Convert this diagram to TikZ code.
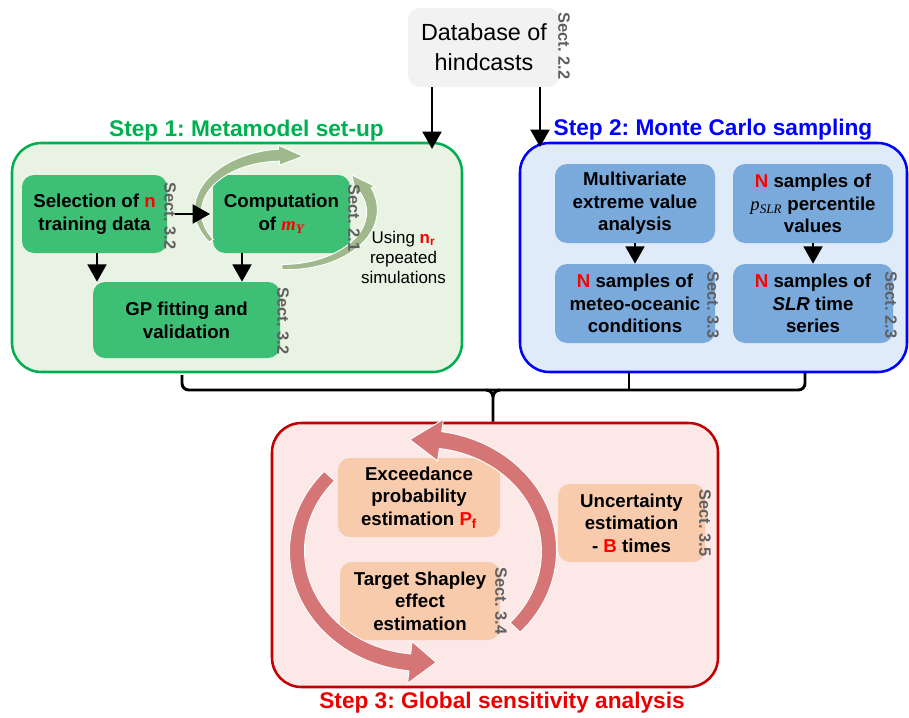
\documentclass[tikz,border=0pt]{standalone}
\usepackage{fontspec}
\setmainfont{Liberation Sans}
\newfontfamily\serifmath{Liberation Serif}
\usetikzlibrary{arrows.meta}
\frenchspacing

\definecolor{s1line}{RGB}{0,176,80}
\definecolor{s1fill}{RGB}{233,243,227}
\definecolor{s1box}{RGB}{61,192,118}
\definecolor{s2line}{RGB}{0,0,255}
\definecolor{s2fill}{RGB}{223,235,248}
\definecolor{s2box}{RGB}{122,170,220}
\definecolor{s3line}{RGB}{192,0,0}
\definecolor{s3fill}{RGB}{253,232,232}
\definecolor{s3box}{RGB}{248,203,173}
\definecolor{dbfill}{RGB}{242,242,242}
\definecolor{sectgray}{RGB}{95,95,95}
\definecolor{cycgreen}{RGB}{160,185,140}
\definecolor{cycred}{RGB}{213,117,117}
\definecolor{hl}{RGB}{255,0,0}
\definecolor{t3red}{RGB}{235,0,0}

\newcommand\hw{10}
\newcommand\cycarrow[9]{%
 \filldraw[cycarc] plot[smooth, domain=#5:#6, samples=40]
   ({#1+(#3+((#8)+((#9)-(#8))*(\x-(#5))/((#6)-(#5)))/2)*cos(\x)},{#2+(#4+((#8)+((#9)-(#8))*(\x-(#5))/((#6)-(#5)))/2)*sin(\x)})
 -- ({#1+(#3+\hw)*cos(#6)},{#2+(#4+\hw)*sin(#6)})
 -- ({#1+#3*cos(#7)},{#2+#4*sin(#7)})
 -- ({#1+(#3-\hw)*cos(#6)},{#2+(#4-\hw)*sin(#6)})
 -- plot[smooth, domain=#6:#5, samples=40]
   ({#1+(#3-((#8)+((#9)-(#8))*(\x-(#5))/((#6)-(#5)))/2)*cos(\x)},{#2+(#4-((#8)+((#9)-(#8))*(\x-(#5))/((#6)-(#5)))/2)*sin(\x)})
 -- cycle;}

\tikzset{
 wh/.style 2 args={minimum width=#1*0.75pt, minimum height=#2*0.75pt},
 stepbox/.style={draw, line width=1.9pt, rounded corners=22pt, inner sep=0pt},
 ibox/.style={rounded corners=9pt, inner sep=0pt, align=center,
   font=\fontsize{14}{17}\selectfont\bfseries},
 sect/.style={rotate=-90, text=sectgray, font=\fontsize{12.3}{14}\selectfont\bfseries, inner sep=0pt},
 steptitle/.style={font=\fontsize{17}{20}\selectfont\bfseries, inner sep=0pt},
 arr/.style={line width=2.2pt, -{Triangle[width=14pt,length=13pt]}},
 bracket/.style={line width=2.2pt, rounded corners=5pt},
 cycarc/.style={fill=cycgreen, draw=white, line width=0.7pt}
}

\begin{document}
\begin{tikzpicture}[x=0.75pt, y=-0.75pt]
\useasboundingbox (0,0) rectangle (909,717);

% step containers
\node[stepbox, draw=s1line, fill=s1fill, wh={450}{229}] (s1) at (237,257.5) {};
\node[stepbox, draw=s2line, fill=s2fill, wh={387}{229}] (s2) at (713.5,257.5) {};
\node[stepbox, draw=s3line, fill=s3fill, wh={446}{264}] (s3) at (495,555) {};

% titles
\node[steptitle, text=s1line] (t1) at (246.5,131) {Step 1: Metamodel set-up};
\node[steptitle, text=s2line] (t2) at (713,130) {Step 2: Monte Carlo sampling};
\node[steptitle, text=t3red] (t3) at (502,703) {Step 3: Global sensitivity analysis};

% database
\node[fill=dbfill, rounded corners=9pt, wh={152}{79}, align=center, inner sep=0pt,
      font=\fontsize{17.5}{22.5}\selectfont] (db) at (484,47.5) {Database of\\hindcasts};
\node[sect] (sdb) at (564,46) {Sect. 2.2};

% step 1 boxes
\node[ibox, fill=s1box, wh={145}{78}] (sel) at (94.5,214) {Selection of {\color{hl}n}\\training data};
\node[ibox, fill=s1box, wh={137}{78}] (comp) at (281.5,214)
  {Computation\\of {\serifmath\bfseries\itshape\color{hl}m\textsubscript{Y}}};
\node[ibox, fill=s1box, wh={187}{76}] (gp) at (186.5,320) {GP fitting and\\validation};

% green cycle arrows
\renewcommand\hw{10}
\cycarrow{285}{211}{87}{56}{148}{266}{282}{5}{12}
\cycarrow{285}{211}{87}{56}{92}{-22}{-40}{5}{12}

\node[sect] (s32a) at (170,216) {Sect. 3.2};
\node[sect] (s21) at (354,218) {Sect. 2.1};
\node[sect] (s32b) at (283,321) {Sect. 3.2};

\node[align=center, inner sep=0pt, font=\fontsize{12.7}{15}\selectfont] (using) at (403.5,257)
  {Using {\color{hl}\bfseries n\textsubscript{r}}\\repeated\\simulations};

% step 2 boxes
\node[ibox, fill=s2box, wh={160}{79}] (mv) at (635,203.5) {Multivariate\\extreme value\\analysis};
\node[ibox, fill=s2box, wh={160}{79}] (ps) at (813,203.5)
  {{\color{hl}N} samples of\\{\serifmath\mdseries\itshape p\textsubscript{SLR}} percentile\\values};
\node[ibox, fill=s2box, wh={160}{79}] (nm) at (635,303.5) {{\color{hl}N} samples of\\meteo-oceanic\\conditions};
\node[ibox, fill=s2box, wh={160}{79}] (ns) at (813,303.5) {{\color{hl}N} samples of\\{\itshape SLR} time\\series};
\node[sect] (s33) at (713,305) {Sect. 3.3};
\node[sect] (s23) at (891,305) {Sect. 2.3};

% step 3 boxes
\node[ibox, fill=s3box, wh={162}{79}] (ex) at (419,497.5)
  {Exceedance\\probability\\estimation {\color{hl}P\textsubscript{f}}};
\node[ibox, fill=s3box, wh={160}{78}] (ts) at (420,601) {Target Shapley\\effect\\estimation};
\node[ibox, fill=s3box, wh={147}{78}] (un) at (631.5,523) {Uncertainty\\estimation\\- {\color{hl}B} times};

% red cycle arrows
\tikzset{cycarc/.style={fill=cycred, draw=white, line width=0.7pt}}
\renewcommand\hw{21}
\cycarrow{423}{551}{126}{112}{43}{-82}{-96}{14}{17}
\cycarrow{423}{551}{126}{112}{222}{96}{84}{14}{17}

\node[sect] (s34) at (501,601) {Sect. 3.4};
\node[sect] (s35) at (705,523) {Sect. 3.5};

% connectors
\coordinate (a1) at (432,149);
\coordinate (a2) at (540,147);
\draw[arr] (db.south -| a1) -- (a1);
\draw[arr] (db.south -| a2) -- (a2);

\draw[arr] ([xshift=6pt]sel.east) -- ([xshift=-2pt]comp.west);
\coordinate (x97) at (97,0);
\coordinate (x242) at (242,0);
\draw[arr] (sel.south -| x97) -- (gp.north -| x97);
\draw[arr] (comp.south -| x242) -- (gp.north -| x242);

\draw[arr] (mv.south) -- (nm.north);
\draw[arr] (ps.south) -- (ns.north);

% bracket joining steps 1 and 2 to step 3
\coordinate (bl) at (182,375);
\coordinate (br) at (805,373);
\coordinate (bm) at (493,390);
\coordinate (bk) at (493,397);
\coordinate (bt) at (629,372);
\draw[bracket] (bl) -- (182,390) -- (805,390) -- (br);
\draw[line width=2.2pt] (486,390) to[out=0,in=90] (bk) -- (s3.north -| bm);
\draw[line width=2.2pt] (500,390) to[out=180,in=90] (bk);
\draw[line width=2.2pt] (bt) -- (bt |- bm);
\end{tikzpicture}
\end{document}
